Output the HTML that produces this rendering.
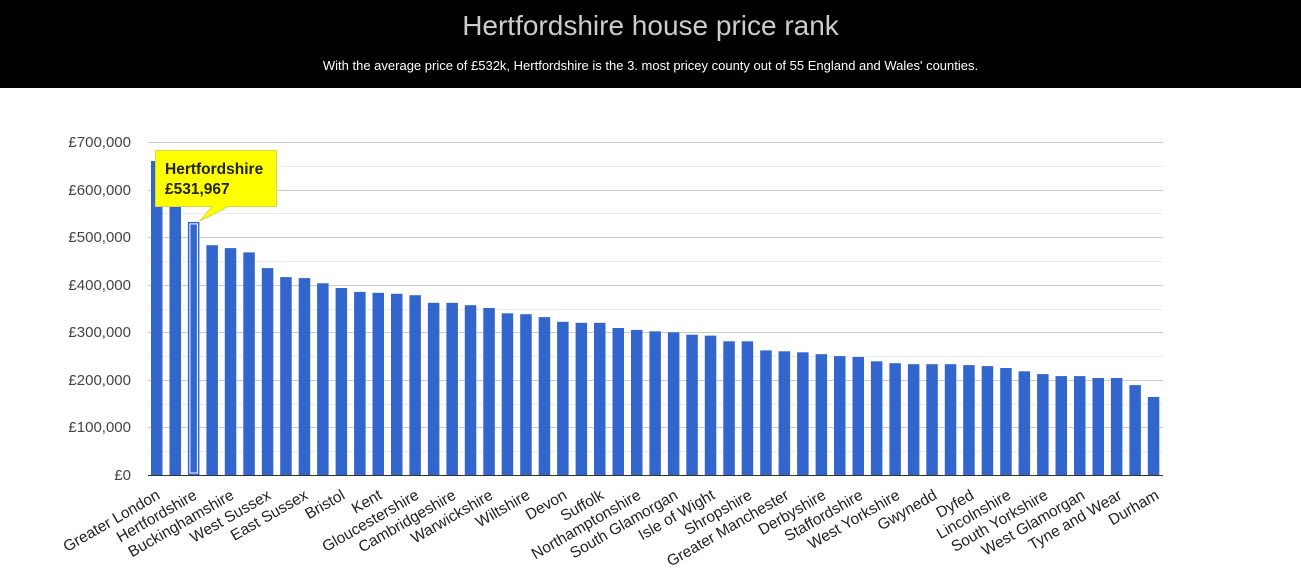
<!DOCTYPE html>
<html><head><meta charset="utf-8"><style>
body{margin:0;width:1301px;height:576px;background:#fff;overflow:hidden;font-family:"Liberation Sans",Arial,sans-serif}
.hd{position:absolute;left:0;top:0;width:1301px;height:88px;background:#000;text-align:center}
.t{color:#ccc;font-size:28px;position:absolute;top:10px;width:100%}
.s{color:#fff;font-size:13px;position:absolute;top:58px;width:100%}
svg{position:absolute;left:0;top:0}
</style></head><body>
<div class="hd"><div class="t">Hertfordshire house price rank</div><div class="s">With the average price of £532k, Hertfordshire is the 3. most pricey county out of 55 England and Wales' counties.</div></div>
<svg width="1301" height="576" font-family="Liberation Sans, Arial, sans-serif">
<g id="grid"></g>
<g font-size="15" fill="#444" text-anchor="end">
<text x="131" y="147">£700,000</text><text x="131" y="195">£600,000</text><text x="131" y="242">£500,000</text><text x="131" y="290">£400,000</text><text x="131" y="337">£300,000</text><text x="131" y="385">£200,000</text><text x="131" y="432">£100,000</text><text x="131" y="480">£0</text>
</g>
<g id="bars"></g>
<line x1="148" y1="475.5" x2="1163" y2="475.5" stroke="#333" stroke-width="1"/>
<g font-size="15.5" fill="#222" text-anchor="end">
<text transform="translate(161,498) rotate(-30)">Greater London</text>
<text transform="translate(198,498) rotate(-30)">Hertfordshire</text>
<text transform="translate(235,498) rotate(-30)">Buckinghamshire</text>
<text transform="translate(272,498) rotate(-30)">West Sussex</text>
<text transform="translate(309,498) rotate(-30)">East Sussex</text>
<text transform="translate(346,498) rotate(-30)">Bristol</text>
<text transform="translate(383,498) rotate(-30)">Kent</text>
<text transform="translate(420,498) rotate(-30)">Gloucestershire</text>
<text transform="translate(457,498) rotate(-30)">Cambridgeshire</text>
<text transform="translate(494,498) rotate(-30)">Warwickshire</text>
<text transform="translate(531,498) rotate(-30)">Wiltshire</text>
<text transform="translate(568,498) rotate(-30)">Devon</text>
<text transform="translate(605,498) rotate(-30)">Suffolk</text>
<text transform="translate(642,498) rotate(-30)">Northamptonshire</text>
<text transform="translate(679,498) rotate(-30)">South Glamorgan</text>
<text transform="translate(716,498) rotate(-30)">Isle of Wight</text>
<text transform="translate(753,498) rotate(-30)">Shropshire</text>
<text transform="translate(790,498) rotate(-30)">Greater Manchester</text>
<text transform="translate(827,498) rotate(-30)">Derbyshire</text>
<text transform="translate(864,498) rotate(-30)">Staffordshire</text>
<text transform="translate(901,498) rotate(-30)">West Yorkshire</text>
<text transform="translate(938,498) rotate(-30)">Gwynedd</text>
<text transform="translate(975,498) rotate(-30)">Dyfed</text>
<text transform="translate(1012,498) rotate(-30)">Lincolnshire</text>
<text transform="translate(1049,498) rotate(-30)">South Yorkshire</text>
<text transform="translate(1086,498) rotate(-30)">West Glamorgan</text>
<text transform="translate(1123,498) rotate(-30)">Tyne and Wear</text>
<text transform="translate(1160,498) rotate(-30)">Durham</text>
</g>
<path d="M155.5,150.5 H276.5 V206.5 H228 L200,221 L212,206.5 H155.5 Z" fill="#ffff00" stroke="#d8d840" stroke-width="1"/>
<text x="165" y="174" font-size="15.5" font-weight="bold" fill="#222">Hertfordshire</text>
<text x="165" y="194" font-size="15.5" font-weight="bold" fill="#222">£531,967</text>
</svg>
<script>
var v=[660,600,532,483,477,468,435,416,414,403,393,385,383,381,378,362,362,357,351,340,338,332,322,320,320,309,305,302,300,295,293,281,281,262,260,258,254,250,248,239,235,233,233,233,231,229,225,218,212,208,208,204,204,189,164];
var ns="http://www.w3.org/2000/svg",g=document.getElementById('grid'),b=document.getElementById('bars');
for(var k=1;k<=14;k++){var y=Math.round(475-k*333/14)+0.5;var l=document.createElementNS(ns,'line');l.setAttribute('x1',148);l.setAttribute('x2',1163);l.setAttribute('y1',y);l.setAttribute('y2',y);l.setAttribute('stroke',k%2?'#ebebeb':'#ccc');g.appendChild(l);}
v.forEach(function(val,i){var h=val*1000*333/700000;var x=151+i*18.46;var r=document.createElementNS(ns,'rect');r.setAttribute('x',x.toFixed(1));r.setAttribute('width',11.5);r.setAttribute('y',(475-h).toFixed(1));r.setAttribute('height',h.toFixed(1));r.setAttribute('fill','#3366cc');b.appendChild(r);
if(i==2){var q=document.createElementNS(ns,'rect');q.setAttribute('x',(x+2).toFixed(1));q.setAttribute('width',7.5);q.setAttribute('y',(475-h+2).toFixed(1));q.setAttribute('height',(h-4).toFixed(1));q.setAttribute('fill','none');q.setAttribute('stroke','#fff');q.setAttribute('stroke-width',1);b.appendChild(q);}});
</script>
</body></html>
